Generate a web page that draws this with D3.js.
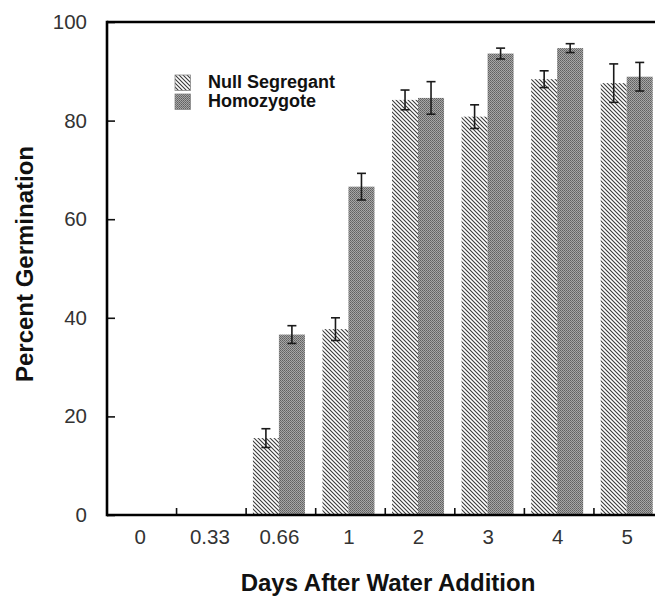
<!DOCTYPE html>
<html>
<head>
<meta charset="utf-8">
<script src="https://cdn.jsdelivr.net/npm/d3@7"></script>
<style>
  html, body { margin: 0; padding: 0; background: #fff; }
  svg { display: block; font-family: "Liberation Sans", Arial, Helvetica, sans-serif; }
</style>
</head>
<body>
<svg id="chart" width="655" height="603"></svg>
<script>
// ---- data ----
const categories = ["0", "0.33", "0.66", "1", "2", "3", "4", "5"];
const seriesNames = ["Null Segregant", "Homozygote"];
const nullValues = [0, 0, 15.6, 37.7, 84.2, 80.8, 88.4, 87.6];
const nullErrors = [0, 0, 1.9, 2.3, 2.0, 2.4, 1.7, 3.9];
const homoValues = [0, 0, 36.6, 66.6, 84.6, 93.6, 94.7, 88.9];
const homoErrors = [0, 0, 1.8, 2.7, 3.3, 1.1, 0.9, 2.9];
const yTicks = [0, 20, 40, 60, 80, 100];
const xTitle = "Days After Water Addition";
const yTitle = "Percent Germination";

// ---- layout ----
const svg = d3.select("#chart");
const mLeft = 107, mRight = 663.5, mTop = 22, mBottom = 515;

const x0 = d3.scaleBand().domain(categories).range([mLeft, mRight]).padding(0);
const pairW = 52;
const x1 = d3.scaleBand().domain(seriesNames).range([0, pairW]).padding(0);
const y = d3.scaleLinear().domain([0, 100]).range([mBottom, mTop]);

// ---- patterns ----
const defs = svg.append("defs");
const hatch = defs.append("pattern").attr("id", "hatch")
  .attr("patternUnits", "userSpaceOnUse").attr("width", 4).attr("height", 4);
hatch.append("rect").attr("width", 4).attr("height", 4).attr("fill", "#ffffff");
hatch.append("path").attr("d", "M0,0 L4,4 M-1,3 L1,5 M3,-1 L5,1")
  .attr("stroke", "#3a3a3a").attr("stroke-width", 1.1);

const stip = defs.append("pattern").attr("id", "stipple")
  .attr("patternUnits", "userSpaceOnUse").attr("width", 2).attr("height", 2);
stip.append("rect").attr("width", 2).attr("height", 2).attr("fill", "#a6a6a6");
stip.append("rect").attr("width", 1).attr("height", 1).attr("fill", "#606060");
stip.append("rect").attr("x", 1).attr("y", 1).attr("width", 1).attr("height", 1).attr("fill", "#707070");

const fills = { "Null Segregant": "url(#hatch)", "Homozygote": "url(#stipple)" };

// ---- bars ----
const rows = [];
categories.forEach((c, i) => {
  rows.push({ cat: c, s: "Null Segregant", v: nullValues[i], e: nullErrors[i] });
  rows.push({ cat: c, s: "Homozygote", v: homoValues[i], e: homoErrors[i] });
});
const pairOffset = (x0.bandwidth() - pairW) / 2 - 2;
const barX = d => x0(d.cat) + pairOffset + x1(d.s);

svg.append("g").selectAll("rect").data(rows.filter(d => d.v > 0)).join("rect")
  .attr("x", barX)
  .attr("y", d => y(d.v))
  .attr("width", x1.bandwidth())
  .attr("height", d => y(0) - y(d.v))
  .attr("fill", d => fills[d.s]);

// ---- error bars ----
const eg = svg.append("g").attr("stroke", "#1a1a1a").attr("stroke-width", 1.6).attr("fill", "none");
rows.filter(d => d.v > 0).forEach(d => {
  const cx = barX(d) + x1.bandwidth() / 2;
  eg.append("line").attr("x1", cx).attr("x2", cx).attr("y1", y(d.v + d.e)).attr("y2", y(d.v - d.e));
  eg.append("line").attr("x1", cx - 4.5).attr("x2", cx + 4.5).attr("y1", y(d.v + d.e)).attr("y2", y(d.v + d.e));
  eg.append("line").attr("x1", cx - 4.5).attr("x2", cx + 4.5).attr("y1", y(d.v - d.e)).attr("y2", y(d.v - d.e));
});

// ---- axes ----
const yAxis = svg.append("g").attr("transform", `translate(${mLeft},0)`)
  .call(d3.axisLeft(y).tickValues(yTicks).tickSize(-8).tickPadding(20).tickSizeOuter(0));
yAxis.select(".domain").remove();
yAxis.selectAll(".tick line").attr("stroke", "#111").attr("stroke-width", 1.6);
yAxis.selectAll("text").attr("font-size", 20.5).attr("fill", "#333");

const xAxis = svg.append("g").attr("transform", `translate(0,${mBottom})`)
  .call(d3.axisBottom(x0).tickSize(0).tickPadding(14).tickSizeOuter(0));
xAxis.select(".domain").remove();
xAxis.selectAll(".tick").attr("transform", d => `translate(${x0(d) + x0.bandwidth() / 2 - 1.5},0)`);
xAxis.selectAll("text").attr("font-size", 20.5).attr("fill", "#333");

// band-boundary ticks on x axis
svg.append("g").selectAll("line").data(categories.slice(1)).join("line")
  .attr("x1", d => x0(d)).attr("x2", d => x0(d))
  .attr("y1", mBottom).attr("y2", mBottom - 7)
  .attr("stroke", "#111").attr("stroke-width", 1.6);

// frame lines (left, bottom, top)
const frame = svg.append("g").attr("stroke", "#000").attr("stroke-width", 2.6).attr("fill", "none");
frame.append("line").attr("x1", mLeft).attr("x2", mLeft).attr("y1", mTop - 1.3).attr("y2", mBottom + 1.3);
frame.append("line").attr("x1", mLeft).attr("x2", mRight).attr("y1", mBottom).attr("y2", mBottom);
frame.append("line").attr("x1", mLeft).attr("x2", mRight).attr("y1", mTop).attr("y2", mTop);

// ---- titles ----
svg.append("text").attr("x", 388).attr("y", 591).attr("text-anchor", "middle")
  .attr("font-size", 24).attr("font-weight", "bold").attr("fill", "#111").text(xTitle);
svg.append("text").attr("transform", "translate(32.5,264) rotate(-90)").attr("text-anchor", "middle")
  .attr("font-size", 24).attr("font-weight", "bold").attr("fill", "#111").text(yTitle);

// ---- legend ----
const legend = svg.append("g").attr("transform", "translate(175,75)");
seriesNames.forEach((s, i) => {
  const g = legend.append("g").attr("transform", `translate(0,${i * 19})`);
  g.append("rect").attr("width", 15.5).attr("height", 15.5).attr("fill", fills[s])
    .attr("stroke", "#888").attr("stroke-width", 0.8);
  g.append("text").attr("x", 33).attr("y", 13).attr("font-size", 18)
    .attr("font-weight", "bold").attr("fill", "#111").text(s);
});
</script>
</body>
</html>
